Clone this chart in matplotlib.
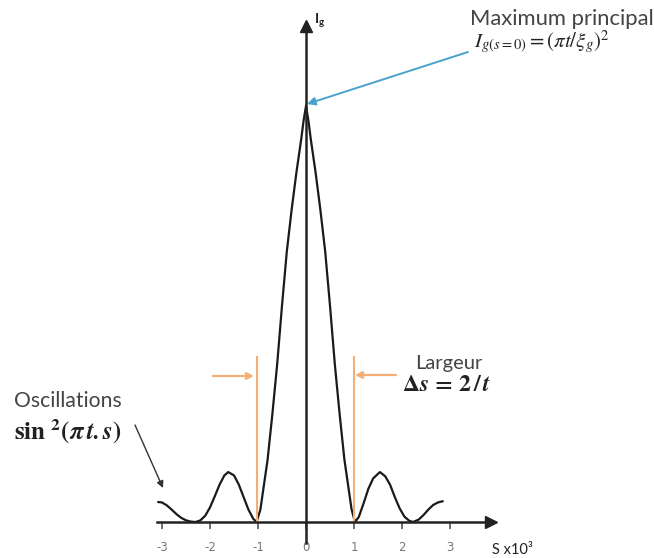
import matplotlib
matplotlib.use("Agg")
import matplotlib.pyplot as plt

# ---- data ----
s_vals = [-3.08, -3.0, -2.9, -2.8, -2.7, -2.6, -2.5, -2.4, -2.3, -2.2, -2.1, -2.0,
          -1.9, -1.8, -1.7, -1.62, -1.5, -1.4, -1.3, -1.2, -1.1, -1.03,
          -0.95, -0.9, -0.8, -0.7, -0.6, -0.5, -0.4, -0.3, -0.2, -0.1, -0.05, 0.0,
          0.05, 0.1, 0.2, 0.3, 0.4, 0.5, 0.6, 0.7, 0.8, 0.9, 0.95,
          1.02, 1.1, 1.2, 1.3, 1.4, 1.54, 1.65, 1.75, 1.85, 1.95, 2.05, 2.15, 2.23,
          2.35, 2.45, 2.55, 2.65, 2.75, 2.85]
intensity = [0.048, 0.047, 0.040, 0.030, 0.019, 0.010, 0.004, 0.001, 0.0, 0.004, 0.015, 0.035,
             0.062, 0.090, 0.112, 0.120, 0.112, 0.090, 0.060, 0.030, 0.008, 0.0,
             0.03, 0.07, 0.15, 0.26, 0.38, 0.52, 0.65, 0.75, 0.84, 0.92, 0.965, 1.0,
             0.965, 0.92, 0.84, 0.75, 0.65, 0.52, 0.38, 0.26, 0.15, 0.07, 0.03,
             0.0, 0.012, 0.045, 0.080, 0.105, 0.120, 0.110, 0.090, 0.060, 0.033, 0.013, 0.003, 0.0,
             0.006, 0.017, 0.030, 0.041, 0.047, 0.050]
tick_vals = [-3, -2, -1, 0, 1, 2, 3]
tick_labels = ["-3", "-2", "-1", "0", "1", "2", "3"]

W, H = 654, 558
X0, PX_PER_S = 306.0, 48.0      # pixel of s=0, pixels per unit s
Y0, PX_PER_I = 522.0, 416.0     # pixel row of I=0, pixels per unit I

fig = plt.figure(figsize=(W / 100, H / 100), dpi=100)
ax = fig.add_axes([0, 0, 1, 1])
ax.set_xlim(-X0 / PX_PER_S, (W - X0) / PX_PER_S)
ax.set_ylim(-(H - Y0) / PX_PER_I, Y0 / PX_PER_I)

def px(x, y):
    """pixel (from top-left) -> data coords"""
    return ((x - X0) / PX_PER_S, (Y0 - y) / PX_PER_I)

axis_col = "#222222"
for side in ("top", "right"):
    ax.spines[side].set_visible(False)
ax.spines["bottom"].set_position(("data", 0))
ax.spines["left"].set_position(("data", 0))
ax.spines["bottom"].set_bounds(-3.1, 3.85)
ax.spines["left"].set_bounds(px(0, 543)[1], px(0, 28)[1])
for side in ("bottom", "left"):
    ax.spines[side].set_color(axis_col)
    ax.spines[side].set_linewidth(1.8)
ax.plot([3.85], [0], marker=">", ms=9, color=axis_col, clip_on=False)
ax.plot([0], [px(0, 26)[1]], marker="^", ms=9, color=axis_col, clip_on=False)

ax.set_xticks(tick_vals)
ax.set_xticklabels(tick_labels)
ax.set_yticks([])
ax.tick_params(axis="x", direction="out", length=5, width=1.2, color="#555555",
               labelsize=8.5, labelcolor="#777777", pad=9)

# curve
ax.plot(s_vals, intensity, color="#1a1a1a", lw=1.6, solid_capstyle="round")

# axis labels
ax.text(*px(492, 550), "S x10³", fontsize=10.5, color="#222222", ha="left", va="center",
        family="Lato")
ax.text(*px(314, 20), r"I$_\mathregular{g}$", fontsize=10, color="#222222",
        ha="left", va="center", family="Lato", fontweight="bold")

# maximum principal
ax.text(*px(470, 19), "Maximum principal", fontsize=15.8, color="#444444",
        ha="left", va="center", family="Lato")
ax.text(*px(474, 42), r"$I_{g(s=0)}=\left(\pi t/\xi_g\right)^2$", fontsize=15,
        color="#222222", ha="left", va="center", math_fontfamily="stix")
ax.annotate("", xy=px(307, 104), xytext=px(468, 52),
            arrowprops=dict(arrowstyle="-|>", color="#4aa3cc", lw=1.4,
                            mutation_scale=12, shrinkA=0, shrinkB=0))

# oscillations
ax.text(*px(14, 401), "Oscillations", fontsize=15.2, color="#444444",
        ha="left", va="center", family="Lato")
ax.text(*px(14, 432), r"$\mathbf{sin}\ ^{\mathbf{2}}\mathbf{(}\mathbfit{\pi}\,\mathbfit{t.s}\mathbf{)}$",
        fontsize=18, color="#222222", ha="left", va="center", math_fontfamily="stix")
ax.annotate("", xy=px(163, 488), xytext=px(135, 425),
            arrowprops=dict(arrowstyle="-|>", color="#333333", lw=1.0,
                            mutation_scale=10, shrinkA=0, shrinkB=0))

# width markers
orange = "#f5ae74"
ax.plot([-1.03, -1.03], [0, px(0, 357)[1]], color=orange, lw=1.5)
ax.plot([1.0, 1.0], [0, px(0, 357)[1]], color=orange, lw=1.5)
ax.annotate("", xy=px(254, 376), xytext=px(213, 376),
            arrowprops=dict(arrowstyle="-|>", color=orange, lw=1.6,
                            mutation_scale=10, shrinkA=0, shrinkB=0))
ax.annotate("", xy=px(355, 375), xytext=px(396, 375),
            arrowprops=dict(arrowstyle="-|>", color=orange, lw=1.6,
                            mutation_scale=10, shrinkA=0, shrinkB=0))
ax.text(*px(415, 363), "Largeur", fontsize=14.5, color="#444444",
        ha="left", va="center", family="Lato")
ax.text(*px(402, 384), r"$\mathbf{\Delta}\mathbfit{s}\,\mathbf{=\,2\,/}\,\mathbfit{t}$",
        fontsize=17, color="#222222", ha="left", va="center", math_fontfamily="stix")

fig.savefig("out.png", dpi=100)
